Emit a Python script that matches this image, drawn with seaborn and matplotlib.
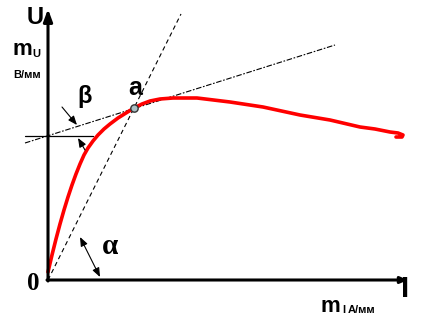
import matplotlib
matplotlib.use("Agg")
import matplotlib.pyplot as plt
import seaborn as sns
import pandas as pd

# Characteristic U(I), drawn in scaled units (m_I, m_U)
curve_i = [0, 4, 8, 12, 16, 20, 24, 28, 32, 36, 40, 45, 50, 56, 62, 70, 78, 86,
           94, 102, 112, 125, 149, 182, 215, 252, 282, 312, 327, 342, 350, 355, 354, 348]
curve_u = [8, 25, 41, 56, 70, 83, 95, 106, 116, 125, 132, 139, 145, 151, 156, 162, 167, 172,
           176, 179, 181, 182, 182, 178, 173, 165, 160, 153, 151, 148, 147, 145, 143, 143]

# Operating point a
point_a = (86, 172)

# Tangent at a and the chord from the origin through a
tangent_i = [-23, 287]
tangent_u = [137, 235]
chord_i = [0, 133]
chord_u = [0, 266]

# Horizontal reference line for angle beta
horiz_i = [-23, 45]
horiz_u = [144, 144]

sns.set_theme(style="white")
plt.rcParams["font.family"] = ["Liberation Sans", "DejaVu Sans"]

fig = plt.figure(figsize=(4.21, 3.26), dpi=100)
ax = fig.add_axes([0, 0, 1, 1])
ax.set_xlim(-48, 373)
ax.set_ylim(-46, 280)
ax.axis("off")

df_curve = pd.DataFrame({"I": curve_i, "U": curve_u})
sns.lineplot(data=df_curve, x="I", y="U", sort=False, estimator=None,
             color="#ff0000", linewidth=2.6, ax=ax, zorder=3)

sns.lineplot(x=tangent_i, y=tangent_u, sort=False, estimator=None,
             color="black", linewidth=0.8, ax=ax, zorder=2)
ax.lines[-1].set_dashes((5, 1.5, 1.5, 1.5))
sns.lineplot(x=chord_i, y=chord_u, sort=False, estimator=None,
             color="black", linewidth=0.8, ax=ax, zorder=2)
ax.lines[-1].set_dashes((4, 3))
sns.lineplot(x=horiz_i, y=horiz_u, sort=False, estimator=None,
             color="black", linewidth=0.9, ax=ax, zorder=2)

# Axes with arrows
ax.annotate("", xy=(0, 271), xytext=(0, -1),
            arrowprops=dict(arrowstyle="-|>,head_length=0.6,head_width=0.22",
                            color="black", lw=2.2, shrinkA=0, shrinkB=0))
ax.annotate("", xy=(360, 0), xytext=(-1, 0),
            arrowprops=dict(arrowstyle="-|>,head_length=0.35,head_width=0.15",
                            color="black", lw=2.2, shrinkA=0, shrinkB=0))

# Point a
ax.scatter([point_a[0]], [point_a[1]], s=28, color="#a9bfc4",
           edgecolor="#333333", linewidth=1.0, zorder=5)

# Angle markers
arrow_kw = dict(arrowstyle="-|>,head_length=0.45,head_width=0.18",
                color="black", lw=0.8, shrinkA=0, shrinkB=0)
ax.annotate("", xy=(29, 155), xytext=(14, 173), arrowprops=arrow_kw)
ax.annotate("", xy=(30, 142), xytext=(37, 130), arrowprops=arrow_kw)
ax.annotate("", xy=(32, 43), xytext=(52, 3),
            arrowprops=dict(arrowstyle="<|-|>,head_length=0.45,head_width=0.18",
                            color="black", lw=0.8, shrinkA=0, shrinkB=0))

# Labels
bold = dict(fontweight="bold", color="black")
serif = ["Liberation Serif", "DejaVu Serif"]
ax.text(-13, 262, "U", fontsize=17, ha="center", va="center", **bold)
ax.text(-36, 225, "m", fontsize=16, ha="left", va="baseline", **bold)
ax.text(-16, 223, "U", fontsize=8, ha="left", va="baseline", **bold)
ax.text(-35, 202, "В/мм", fontsize=8, ha="left", va="baseline", **bold)
ax.text(37, 183, "β", fontsize=17, ha="center", va="center", **bold)
ax.text(87, 192, "a", fontsize=18, ha="center", va="center", **bold)
ax.text(62, 34, "α", fontsize=21, ha="center", va="center", family=serif, **bold)
ax.text(-15, -3, "0", fontsize=18, ha="center", va="center", family=serif, **bold)
ax.text(357, -9, "I", fontsize=21, ha="center", va="center", **bold)
ax.text(273, -32, "m", fontsize=16, ha="left", va="baseline", **bold)
ax.text(294, -33, "I", fontsize=8, ha="left", va="baseline", **bold)
ax.text(300, -33, "А/мм", fontsize=8, ha="left", va="baseline", **bold)

fig.savefig("out.png", dpi=100, facecolor="white")
